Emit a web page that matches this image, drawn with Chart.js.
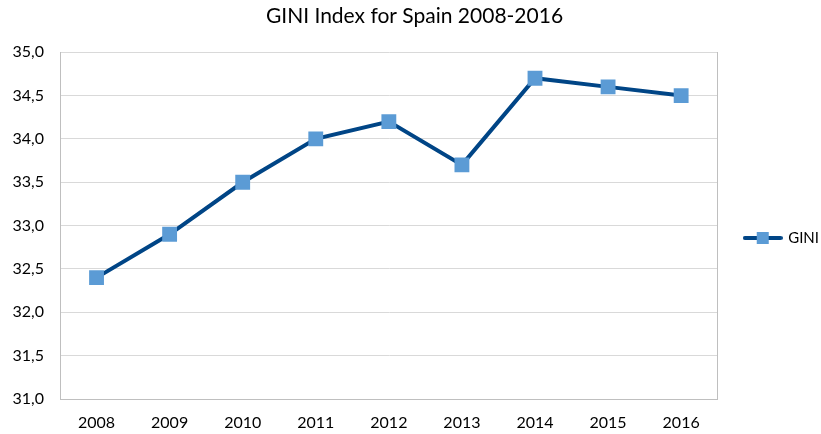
<!DOCTYPE html>
<html>
<head>
<meta charset="utf-8">
<script src="https://cdn.jsdelivr.net/npm/chart.js@4"></script>
<style>
  html, body { margin: 0; padding: 0; background: #fff; }
  #wrap { width: 821px; height: 434px; }
</style>
</head>
<body>
<div id="wrap"><canvas id="chart" width="821" height="434"></canvas></div>
<script>
const years = ["2008", "2009", "2010", "2011", "2012", "2013", "2014", "2015", "2016"];
const gini = [32.4, 32.9, 33.5, 34.0, 34.2, 33.7, 34.7, 34.6, 34.5];
const seriesName = "GINI";
const chartTitle = "GINI Index for Spain 2008-2016";

const lineColor = "#004586";
const markerColor = "#5b9bd5";
const fontName = "Lato, 'Open Sans', sans-serif";

// legend symbol: line with a square in the middle, like the spreadsheet one
function legendSymbol() {
  const c = document.createElement("canvas");
  c.width = 40;
  c.height = 12;
  const ctx = c.getContext("2d");
  ctx.strokeStyle = lineColor;
  ctx.lineWidth = 4;
  ctx.lineCap = "round";
  ctx.beginPath();
  ctx.moveTo(2, 6);
  ctx.lineTo(38, 6);
  ctx.stroke();
  ctx.fillStyle = markerColor;
  ctx.fillRect(14, 0, 12, 12);
  return c;
}

const data = {
  labels: years,
  datasets: [
    {
      label: seriesName,
      data: gini,
      borderColor: lineColor,
      backgroundColor: markerColor,
      borderWidth: 4,
      pointStyle: "rect",
      pointRadius: 10.5,
      pointHoverRadius: 10.5,
      pointBorderWidth: 0,
      pointBackgroundColor: markerColor,
      tension: 0,
    },
  ],
};

const config = {
  type: "line",
  data,
  options: {
    responsive: false,
    animation: false,
    layout: { padding: { top: 0, left: 0, right: -8, bottom: 0 } },
    plugins: {
      title: {
        display: true,
        text: chartTitle,
        color: "#000",
        font: { family: fontName, size: 21, weight: "normal" },
        padding: { top: 4, bottom: 23 },
      },
      legend: {
        position: "right",
        // empty title only pushes the entry down a little
        title: { display: true, text: " ", font: { size: 10 }, padding: 15 },
        labels: {
          color: "#000",
          font: { family: fontName, size: 15 },
          usePointStyle: true,
          pointStyleWidth: 36,
          padding: 26,
          generateLabels: (chart) => [
            {
              text: seriesName,
              pointStyle: legendSymbol(),
              fillStyle: markerColor,
              strokeStyle: lineColor,
              fontColor: "#000",
              lineWidth: 0,
              datasetIndex: 0,
            },
          ],
        },
      },
      tooltip: { enabled: false },
    },
    scales: {
      x: {
        offset: true,
        afterFit: (scale) => { scale.height = 35; },
        grid: { display: false, drawTicks: false },
        border: { color: "#bfbfbf", width: 1 },
        ticks: { color: "#000", font: { family: fontName, size: 16 }, padding: 14 },
      },
      y: {
        min: 31,
        max: 35,
        afterFit: (scale) => { scale.width = 60; },
        grid: { color: "#d9d9d9", drawTicks: false },
        border: { color: "#bfbfbf", width: 1 },
        ticks: {
          stepSize: 0.5,
          color: "#000",
          padding: 16,
          font: { family: fontName, size: 16 },
          callback: (v) => v.toFixed(1).replace(".", ","),
        },
      },
      yRight: {
        position: "right",
        min: 31,
        max: 35,
        afterFit: (scale) => { scale.width = 1; },
        grid: { drawOnChartArea: false, drawTicks: false },
        border: { color: "#bfbfbf", width: 1 },
        ticks: { display: false },
      },
    },
  },
};

new Chart(document.getElementById("chart"), config);
</script>
</body>
</html>
